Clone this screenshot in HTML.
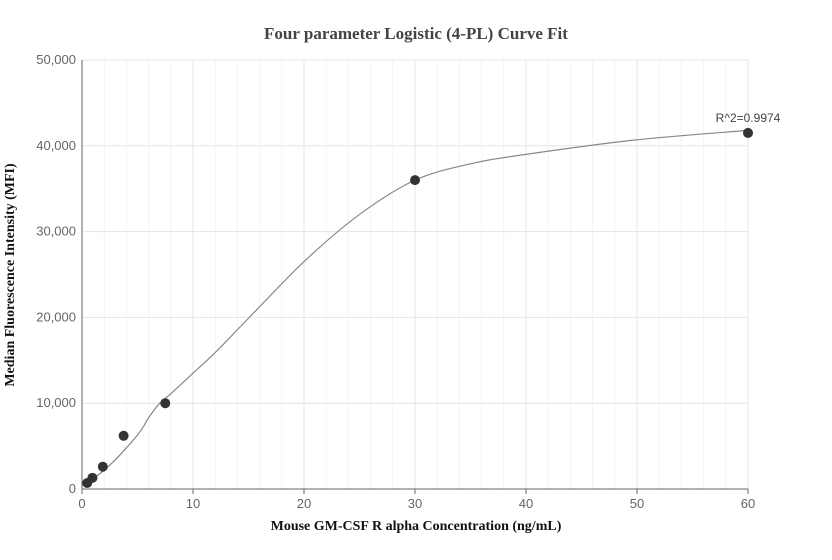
<!DOCTYPE html>
<html><head><meta charset="utf-8"><style>
body{margin:0;background:#fff;}
svg{display:block;font-family:"Liberation Sans",sans-serif;}
</style></head><body>
<svg id="chart" width="832" height="560">
<text x="416" y="39" text-anchor="middle" font-family="Liberation Serif" font-weight="bold" font-size="17" fill="#444">Four parameter Logistic (4-PL) Curve Fit</text>
<text x="416" y="530" text-anchor="middle" font-family="Liberation Serif" font-weight="bold" font-size="14" fill="#111">Mouse GM-CSF R alpha Concentration (ng/mL)</text>
<text transform="translate(14,275) rotate(-90)" text-anchor="middle" font-family="Liberation Serif" font-weight="bold" font-size="14" fill="#111">Median Fluorescence Intensity (MFI)</text>
<g id="grid"></g><g id="axes"></g><g id="marks"></g>
</svg>
<script>
const xTicks=[0,10,20,30,40,50,60];
const yTicks=[0,10000,20000,30000,40000,50000];
const concentrations=[0.469,0.938,1.875,3.75,7.5,30,60];
const mfiValues=[700,1300,2600,6200,10000,36000,41500];
const curveX=[0,0.5,1,2,3,4,5,5.5,6,7,8,10,12,15,20,25,30,35,40,50,60];
const curveY=[400,800,1200,2200,3400,4800,6300,7200,8300,10000,11100,13500,15900,19900,26500,32000,36000,37900,39000,40700,41800];
const r2Label="R^2=0.9974";
const NS="http://www.w3.org/2000/svg";
const X0=82,X1=748,Y0=489,Y1=60;
const sx=v=>X0+(v-0)/(60-0)*(X1-X0);
const sy=v=>Y0-(v/50000)*(Y0-Y1);
const svg=document.getElementById('chart');
function mk(t,a,p){const e=document.createElementNS(NS,t);for(const k in a)e.setAttribute(k,a[k]);p.appendChild(e);return e;}
const grid=document.getElementById('grid'),axes=document.getElementById('axes'),marks=document.getElementById('marks');
for(let v=0;v<=60;v+=2){if(v%10===0)continue;const l=mk('line',{x1:sx(v),x2:sx(v),y1:Y1,y2:Y0,stroke:'#f3f3f3'},grid);

}
xTicks.forEach(v=>{if(v>0){const l=mk('line',{x1:sx(v),x2:sx(v),y1:Y1,y2:Y0,stroke:'#e4e4e4'},grid);

}
const t=mk('text',{x:sx(v),y:Y0+19,'text-anchor':'middle','font-size':13,fill:'#666'},axes);t.textContent=v;


mk('line',{x1:sx(v),x2:sx(v),y1:Y0,y2:Y0+5,stroke:'#666'},axes);});
yTicks.forEach(v=>{if(v>0){const l=mk('line',{x1:X0,x2:X1,y1:sy(v),y2:sy(v),stroke:'#e4e4e4'},grid);

}
const t=mk('text',{x:X0-6,y:sy(v)+4,'text-anchor':'end','font-size':13,fill:'#666'},axes);t.textContent=v.toLocaleString('en-US');

});
const ya=mk('line',{x1:X0,x2:X0,y1:Y1,y2:Y0,stroke:'#666'},axes);


const xa=mk('line',{x1:X0,x2:X1,y1:Y0,y2:Y0,stroke:'#666'},axes);


// catmull-rom curve
const P=curveX.map((x,i)=>[sx(x),sy(curveY[i])]);
let d=`M${P[0][0]},${P[0][1]}`;
for(let i=0;i<P.length-1;i++){const p0=P[Math.max(0,i-1)],p1=P[i],p2=P[i+1],p3=P[Math.min(P.length-1,i+2)];
d+=` C${p1[0]+(p2[0]-p0[0])/6},${p1[1]+(p2[1]-p0[1])/6} ${p2[0]-(p3[0]-p1[0])/6},${p2[1]-(p3[1]-p1[1])/6} ${p2[0]},${p2[1]}`;}
const c=mk('path',{d:d,fill:'none',stroke:'#888','stroke-width':1.2},marks);


concentrations.forEach((x,i)=>{const p=mk('circle',{cx:sx(x),cy:sy(mfiValues[i]),r:5,fill:'#333'},marks);

});
const lbl=mk('text',{x:sx(60),y:sy(mfiValues[6])-11,'text-anchor':'middle','font-size':12,fill:'#444'},marks);
lbl.textContent=r2Label;


</script>
</body></html>
